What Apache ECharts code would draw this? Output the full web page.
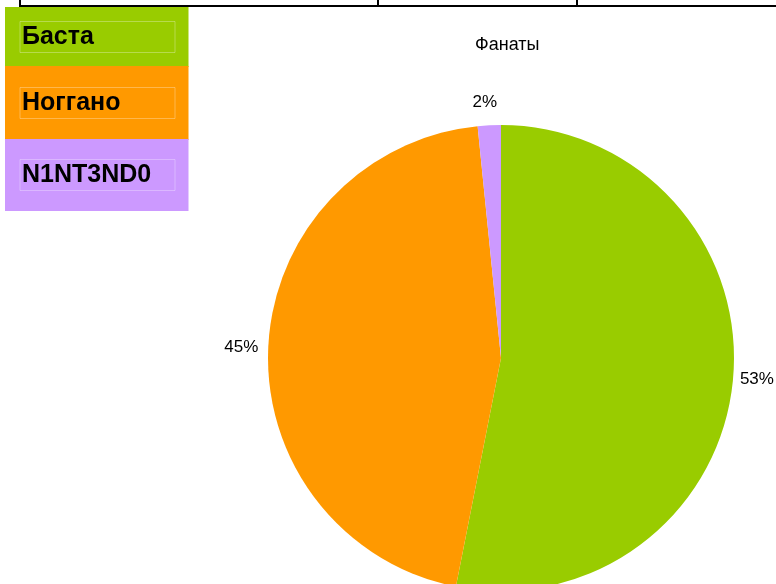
<!DOCTYPE html>
<html>
<head>
<meta charset="utf-8">
<script src="https://cdn.jsdelivr.net/npm/echarts@6/dist/echarts.min.js"></script>
<style>
html, body { margin: 0; padding: 0; background: #fff; }
#main-canvas { width: 776px; height: 584px; }
</style>
</head>
<body>
<div id="main-canvas"></div>
<script>
// данные диаграммы
var chartTitle = 'Фанаты';
var names = ['Баста', 'Ноггано', 'N1NT3ND0'];
var values = [53.1, 45.3, 1.6];
var colors = ['#99cc00', '#ff9900', '#cc99ff'];

// позиции блоков легенды
var legendTops = [7, 66, 139];
var legendPads = [[14, 13, 14, 10], [21, 13, 21, 10], [20, 13, 20, 10]];

var myChart = echarts.init(document.getElementById('main-canvas'));

var legends = [];
for (var i = 0; i < names.length; i++)
{
    legends.push({
        data: [names[i]],
        left: 5,
        top: legendTops[i],
        itemWidth: 0,
        itemHeight: 0,
        itemGap: 0,
        selectedMode: false,
        backgroundColor: colors[i],
        borderWidth: 0,
        padding: legendPads[i],
        textStyle: {
            fontFamily: 'Liberation Sans',
            fontSize: 25,
            fontWeight: 'bold',
            color: '#000',
            width: 153,
            height: 29,
            lineHeight: 33,
            padding: [2, 0, 0, 2],
            borderColor: 'rgba(255,255,255,0.3)',
            borderWidth: 1
        }
    });
}

var pieData = [];
for (var j = 0; j < names.length; j++)
{
    pieData.push({ name: names[j], value: values[j], itemStyle: { color: colors[j] } });
}

var option = {
    animation: false,
    title: {
        text: chartTitle,
        left: 475,
        top: 36,
        padding: 0,
        textStyle: {
            fontFamily: 'Liberation Sans',
            fontSize: 18,
            fontWeight: 'normal',
            color: '#000'
        }
    },
    legend: legends,
    series: [{
        type: 'pie',
        center: [501, 358],
        radius: 233,
        startAngle: 90,
        clockwise: true,
        percentPrecision: 0,
        avoidLabelOverlap: false,
        data: pieData,
        itemStyle: { borderWidth: 0 },
        label: {
            show: true,
            position: 'outside',
            formatter: '{d}%',
            fontFamily: 'Liberation Sans',
            fontSize: 17,
            color: '#000',
            distanceToLabelLine: 5
        },
        labelLine: { show: false, length: 2, length2: 3 },
        labelLayout: function (params) {
            if (params.dataIndex === 0) {
                return { dx: -3, dy: -2 };
            }
            if (params.dataIndex === 2) {
                return { dx: 16, dy: -21 };
            }
            return {};
        }
    }],
    graphic: [
        { type: 'line', shape: { x1: 19, y1: 6, x2: 776, y2: 6 }, style: { stroke: '#000', lineWidth: 2 } },
        { type: 'line', shape: { x1: 20, y1: 0, x2: 20, y2: 6 }, style: { stroke: '#000', lineWidth: 2 } },
        { type: 'line', shape: { x1: 378, y1: 0, x2: 378, y2: 6 }, style: { stroke: '#000', lineWidth: 2 } },
        { type: 'line', shape: { x1: 577, y1: 0, x2: 577, y2: 6 }, style: { stroke: '#000', lineWidth: 2 } }
    ]
};

myChart.setOption(option);
</script>
</body>
</html>
